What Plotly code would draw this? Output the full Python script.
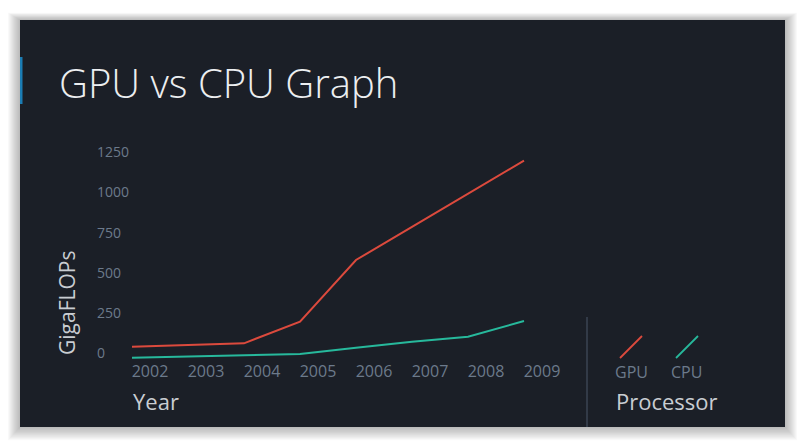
import plotly.graph_objects as go

# ---- data ----
years = [2002, 2003, 2004, 2005, 2006, 2007, 2008, 2009]
gpu = [83, 93, 104, 239, 623, 829, 1036, 1242]
cpu = [14, 22, 29, 37, 76, 114, 145, 243]
y_ticks = [0, 250, 500, 750, 1000, 1250]
series_names = ["GPU", "CPU"]
series_colors = ["#dc4a3d", "#27b99c"]

W, H = 805, 447
def X(px):
    return px / W
def Y(py):
    return 1 - py / H

BG = "#1b1f27"
TICK = "#6c7a8b"
LABEL = "#c9cdd2"
FONT = "Open Sans"

fig = go.Figure()
for name, vals, col in zip(series_names, [gpu, cpu], series_colors):
    fig.add_trace(go.Scatter(x=years, y=vals, mode="lines", name=name,
                             line=dict(color=col, width=2), hoverinfo="skip",
                             showlegend=False))

shapes = []
# soft shadow
for i in range(1, 13):
    shapes.append(dict(type="rect", xref="paper", yref="paper", layer="below",
                       x0=X(20 - i), x1=X(785 + i), y0=Y(427 + i * 1.1), y1=Y(20 - i * 0.6),
                       fillcolor="rgba(0,0,0,0.022)", line=dict(width=0)))
# card
shapes.append(dict(type="rect", xref="paper", yref="paper", layer="below",
                   x0=X(20), x1=X(785), y0=Y(427), y1=Y(20),
                   fillcolor=BG, line=dict(width=0)))
# blue accent bar
shapes.append(dict(type="rect", xref="paper", yref="paper", layer="below",
                   x0=X(20), x1=X(22.5), y0=Y(104), y1=Y(57),
                   fillcolor="#1b7db4", line=dict(width=0)))
# separator
shapes.append(dict(type="line", xref="paper", yref="paper", layer="below",
                   x0=X(587), x1=X(587), y0=Y(427), y1=Y(317),
                   line=dict(color="#3b4553", width=1.5)))
# legend glyphs
for k, col in enumerate(series_colors):
    x0 = 620 + k * 56
    shapes.append(dict(type="line", xref="paper", yref="paper",
                       x0=X(x0), x1=X(x0 + 22), y0=Y(358), y1=Y(336),
                       line=dict(color=col, width=1.8)))

def ann(text, px, py, size, color, xanchor="left", **kw):
    return dict(text=text, xref="paper", yref="paper", x=X(px), y=Y(py),
                xanchor=xanchor, yanchor="middle", showarrow=False,
                font=dict(family=FONT, size=size, color=color, **kw.pop("fw", {})), **kw)

annotations = [
    ann("GPU vs CPU Graph", 57, 82, 40, "#eceef0", fw=dict(weight=300)),
    ann("Year", 131, 401, 22, LABEL),
    ann("Processor", 614, 401, 22, LABEL),
    ann("GigaFLOPs", 67, 303, 21, LABEL, xanchor="center", textangle=-90),
]
for k, name in enumerate(series_names):
    annotations.append(ann(name, 613 + k * 56, 372, 16, TICK))

fig.update_layout(
    width=W, height=H, autosize=False,
    margin=dict(l=0, r=0, t=0, b=0),
    paper_bgcolor="white", plot_bgcolor="rgba(0,0,0,0)",
    shapes=shapes, annotations=annotations,
    xaxis=dict(domain=[X(93), X(560)], anchor="free", position=Y(360),
               range=[2002 - 39 / 56, 2009 + 36 / 56],
               tickvals=years, ticktext=[str(y) for y in years],
               showgrid=False, zeroline=False, showline=False, ticks="",
               ticklabelshift=18, ticklabelstandoff=0,
               tickfont=dict(family=FONT, size=16, color=TICK)),
    yaxis=dict(domain=[Y(380), Y(130)],
               range=[(360 - 380) * 6.23, (360 - 130) * 6.23],
               tickvals=y_ticks, ticktext=[str(v) for v in y_ticks],
               showgrid=False, zeroline=False, showline=False, ticks="",
               ticklabelposition="inside", ticklabelshift=-7, ticklabelstandoff=1,
               tickfont=dict(family=FONT, size=14, color=TICK)),
)

fig.write_html("out.html", config={"displayModeBar": False},
               post_script="document.body.style.margin='0';")
